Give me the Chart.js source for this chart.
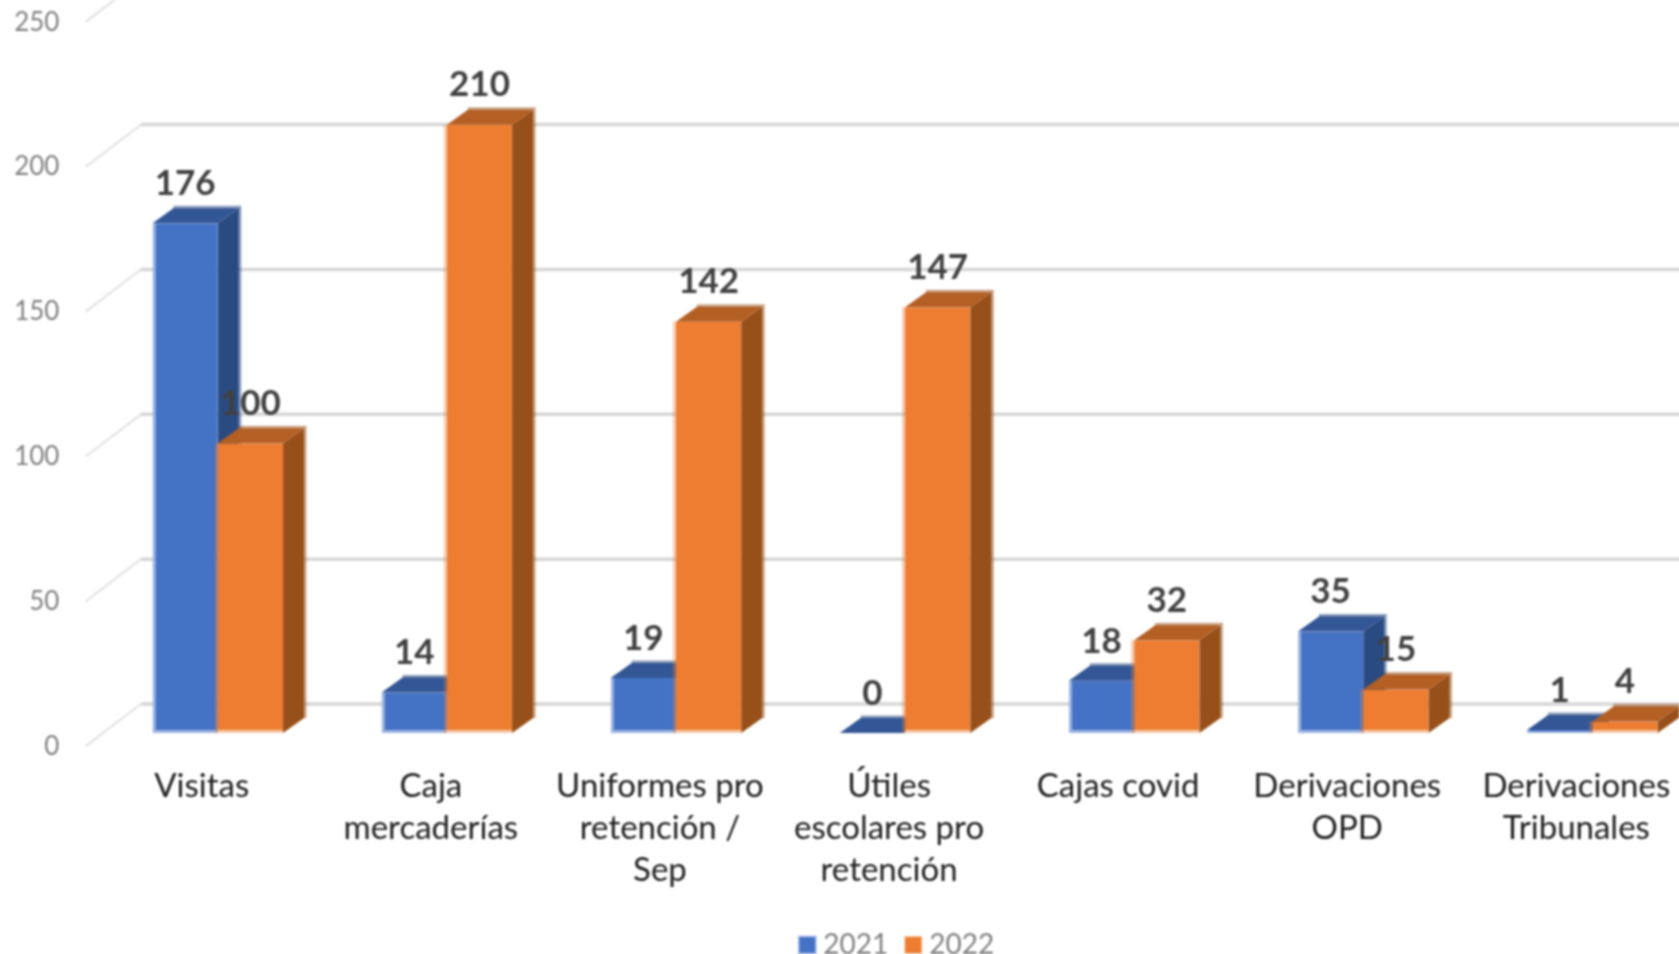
<!DOCTYPE html>
<html lang="es">
<head>
<meta charset="utf-8">
<style>
html,body{margin:0;padding:0;background:#fff;overflow:hidden;width:1679px;height:954px}
#wrap{position:absolute;left:0;top:0;width:1679px;height:954px;overflow:hidden}
canvas{position:absolute;left:0;top:0;filter:blur(0.8px)}
</style>
<script src="https://cdn.jsdelivr.net/npm/chart.js@4/dist/chart.umd.min.js"></script>
</head>
<body>
<div id="wrap"><canvas id="c" width="1790" height="975" style="width:1790px;height:975px"></canvas></div>
<script>
const categories = [
  ["Visitas"],
  ["Caja","mercaderías"],
  ["Uniformes pro","retención /","Sep"],
  ["Útiles","escolares pro","retención"],
  ["Cajas covid"],
  ["Derivaciones","OPD"],
  ["Derivaciones","Tribunales"]
];
const values2021 = [176,14,19,0,18,35,1];
const values2022 = [100,210,142,147,32,15,4];
const yTicks = [0,50,100,150,200,250];

const BLUE = {front:'#4472C4', side:'#2A4A82', top:'#335695', edge:'rgba(42,74,130,0.55)', halo:'rgba(68,114,196,0.45)'};
const ORANGE = {front:'#ED7D31', side:'#975019', top:'#B45F24', edge:'rgba(151,80,25,0.5)', halo:'rgba(237,125,49,0.4)'};
const DX = 21, DY = 15;
const BACK = -29, FRONT = 13.2, WALL_L = 85.7, WALL_R = 141;

function drawFaces(chart, index, pal){
  const ctx = chart.ctx;
  chart.getDatasetMeta(index).data.forEach(b=>{
    const l = b.x - b.width/2, r = b.x + b.width/2, t = b.y, base = b.base;
    ctx.save();
    ctx.beginPath();
    ctx.moveTo(r,t); ctx.lineTo(r+DX,t-DY); ctx.lineTo(r+DX,base-DY); ctx.lineTo(r,base); ctx.closePath();
    ctx.fillStyle = pal.side; ctx.fill();
    ctx.beginPath();
    ctx.moveTo(l,t); ctx.lineTo(l+DX,t-DY); ctx.lineTo(r+DX,t-DY); ctx.lineTo(r,t); ctx.closePath();
    ctx.fillStyle = pal.top; ctx.fill();
    ctx.beginPath();
    ctx.moveTo(l+DX,t-DY-1); ctx.lineTo(r+DX+1,t-DY-1); ctx.lineTo(r+DX+1,base-DY);
    ctx.strokeStyle = pal.edge; ctx.lineWidth = 3; ctx.stroke();
    ctx.restore();
  });
}

const wall3d = {
  id:'wall3d',
  afterLayout(chart){
    chart.legend.right = chart.width + 9.6;
  },
  beforeDatasetsDraw(chart){
    const ctx = chart.ctx, y = chart.scales.y;
    ctx.save();
    yTicks.forEach(v=>{
      const p = y.getPixelForValue(v);
      ctx.beginPath();
      ctx.moveTo(WALL_L,p+FRONT); ctx.lineTo(WALL_R,p+BACK);
      ctx.strokeStyle='#E2E2E2'; ctx.lineWidth=2.2; ctx.stroke();
      ctx.beginPath();
      ctx.moveTo(WALL_R,p+BACK); ctx.lineTo(chart.width,p+BACK);
      ctx.strokeStyle='#D6D6D6'; ctx.lineWidth=3.5; ctx.stroke();
    });
    ctx.restore();
    drawFaces(chart,0,BLUE);
  },
  beforeDatasetDraw(chart,args){
    if(args.index===0) drawFaces(chart,1,ORANGE);
  },
  afterDatasetsDraw(chart){
    const ctx = chart.ctx;
    ctx.save();
    chart.getDatasetMeta(1).data.forEach(b=>{
      const l=b.x-b.width/2;
      ctx.fillStyle=ORANGE.halo;
      ctx.fillRect(l-3,b.y,3,b.base-b.y);
    });
    ctx.font='bold 35px Lato';
    ctx.fillStyle='#404040';
    ctx.textAlign='center';
    ctx.textBaseline='middle';
    chart.data.datasets.forEach((ds,i)=>{
      chart.getDatasetMeta(i).data.forEach((b,j)=>{
        ctx.fillText(String(ds.data[j]), b.x, b.y-39.5);
      });
    });
    ctx.restore();
  }
};

new Chart(document.getElementById('c'),{
  type:'bar',
  data:{
    labels:categories,
    datasets:[
      {label:'2021',data:values2021,backgroundColor:BLUE.front,borderColor:'#9DB5E2',borderWidth:{left:3,bottom:3,top:0,right:0},borderSkipped:false,pointStyle:'rect'},
      {label:'2022',data:values2022,backgroundColor:ORANGE.front,borderColor:'#F8C9A8',borderWidth:{left:0,bottom:3,top:0,right:0},borderSkipped:false,pointStyle:'rect'}
    ]
  },
  options:{
    responsive:false,
    animation:false,
    devicePixelRatio:1,
    layout:{autoPadding:false,padding:{left:0,top:8.75,right:83.1,bottom:6}},
    datasets:{bar:{categoryPercentage:0.57,barPercentage:1}},
    plugins:{
      tooltip:{enabled:false},
      legend:{
        position:'bottom',
        labels:{
          usePointStyle:true,
          boxWidth:4,
          boxHeight:17,
          padding:23,
          color:'#7f7f7f',
          font:{family:'Lato',size:28}
        }
      }
    },
    scales:{
      x:{
        grid:{display:false},
        border:{display:false},
        ticks:{
          autoSkip:false,maxRotation:0,minRotation:0,
          labelOffset:-16,padding:24,
          color:'#202020',
          font:{family:'Lato',size:33,lineHeight:1.282}
        },
        afterFit(s){s.height=175;s.paddingLeft=0;s.paddingRight=0;}
      },
      y:{
        min:0,max:250,
        grid:{display:false},
        border:{display:false},
        afterBuildTicks(s){s.ticks=yTicks.map(v=>({value:v}));},
        ticks:{
          padding:35.8,
          labelOffset:13.5,
          color:'#7f7f7f',
          font:{family:'Lato',size:26}
        },
        afterFit(s){s.width=103.2;s.paddingTop=0;s.paddingBottom=0;}
      }
    }
  },
  plugins:[wall3d]
});
</script>
</body>
</html>
